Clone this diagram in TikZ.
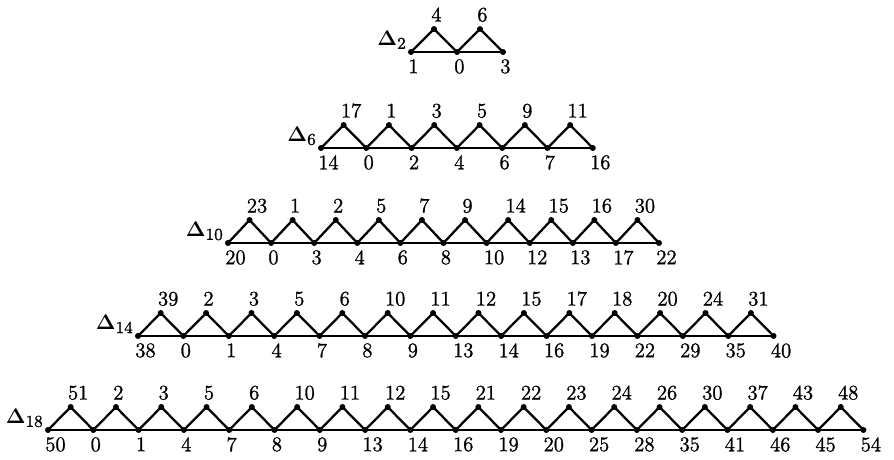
\documentclass[tikz,border=0pt]{standalone}
\usepackage{tikz}
\usepackage{amsmath,amssymb}
\usepackage{fontspec}
\newfontfamily\numfont{Latin Modern Roman}[FakeBold=1.2]

\begin{document}
\begin{tikzpicture}[x=0.2mm,y=-0.2mm,
  vtx/.style={circle,fill=black,inner sep=0pt,minimum size=3.4pt},
  lab/.style={inner sep=0pt,font=\numfont\fontsize{11.8}{13}\selectfont},
  edge/.style={line width=1.3pt,line join=round}
]
  \useasboundingbox (0,0) rectangle (894,459);
  % one row per Delta_n: first vertex x, base line y, spacing, lower and upper labels
  \foreach \n/\xa/\yb/\dx/\lo/\hi in {
    2/411/52/46/{1,0,3}/{4,6},
    6/321/148/45.3/{14,0,2,4,6,7,16}/{17,1,3,5,9,11},
    10/228/243/43.1/{20,0,3,4,6,8,10,12,13,17,22}/{23,1,2,5,7,9,14,15,16,30},
    14/138/336/45.4/{38,0,1,4,7,8,9,13,14,16,19,22,29,35,40}/{39,2,3,5,6,10,11,12,15,17,18,20,24,31},
    18/48/430/45.3/{50,0,1,4,7,8,9,13,14,16,19,20,25,28,35,41,46,45,54}/{51,2,3,5,6,10,11,12,15,21,22,23,24,26,30,37,43,48}}{
    \node[inner sep=0pt,anchor=base east,font=\fontsize{13}{14}\selectfont] (d\n) at (\xa-4,\yb-7) {$\boldsymbol{\Delta}_{\mbox{\numfont\fontsize{9.5}{10}\selectfont\n}}$};
    \foreach \v [count=\i from 0] in \lo {
      \node[vtx] (b\n-\i) at (\xa+\i*\dx,\yb) {};
      \node[lab,anchor=north west] (lb\n-\i) at (\xa+\i*\dx-3,\yb+7) {\v};
    }
    \draw[edge] (b\n-0.center) -- (b\n-\n.center);
    \foreach \v [count=\i from 1] in \hi {
      \pgfmathtruncatemacro\j{\i-1}
      \node[vtx] (t\n-\i) at (\xa+\i*\dx-0.5*\dx,\yb-23) {};
      \node[lab,anchor=base west] (lt\n-\i) at (\xa+\i*\dx-0.5*\dx-3,\yb-30.5) {\v};
      \draw[edge] (b\n-\j.center) -- (t\n-\i.center) -- (b\n-\i.center);
    }
  }
\end{tikzpicture}
\end{document}
